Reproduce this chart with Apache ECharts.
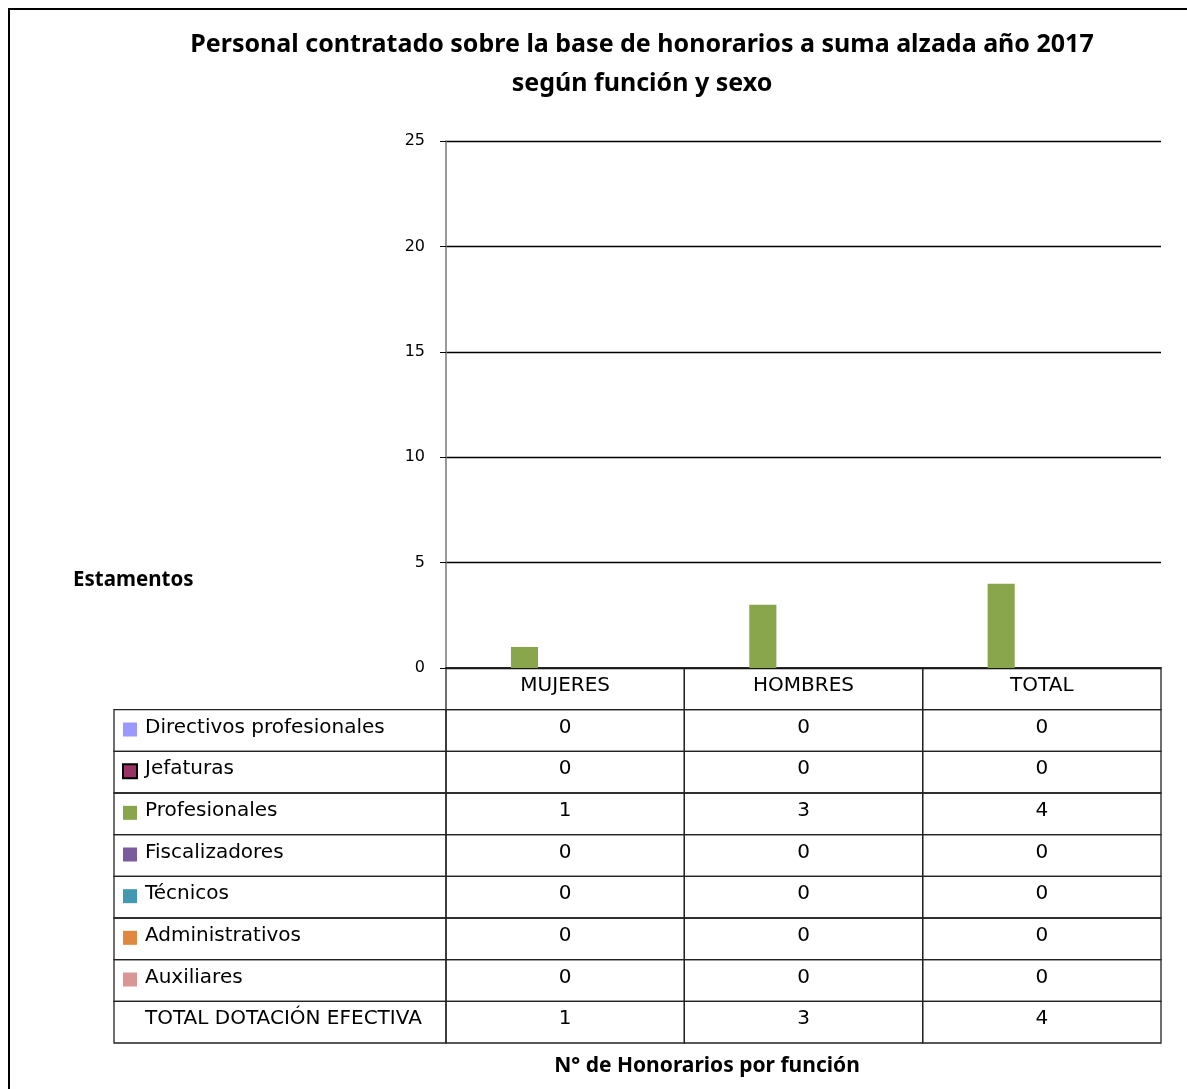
<!DOCTYPE html>
<html>
<head>
<meta charset="utf-8">
<script src="https://cdn.jsdelivr.net/npm/echarts@6/dist/echarts.min.js"></script>
<style>
  html, body { margin: 0; padding: 0; background: #fff; }
  #chart { width: 1187px; height: 1089px; }
</style>
</head>
<body>
<div id="chart"></div>
<script>
// data
var categories = ['MUJERES', 'HOMBRES', 'TOTAL'];
var estamentos = ['Directivos profesionales', 'Jefaturas', 'Profesionales', 'Fiscalizadores',
  'Técnicos', 'Administrativos', 'Auxiliares', 'TOTAL DOTACIÓN EFECTIVA'];
var directivos = [0, 0, 0];
var jefaturas = [0, 0, 0];
var profesionales = [1, 3, 4];
var fiscalizadores = [0, 0, 0];
var tecnicos = [0, 0, 0];
var administrativos = [0, 0, 0];
var auxiliares = [0, 0, 0];
var totalDotacion = [1, 3, 4];
var yTicks = [0, 5, 10, 15, 20, 25];

var seriesValues = [directivos, jefaturas, profesionales, fiscalizadores,
  tecnicos, administrativos, auxiliares, totalDotacion];
var colors = ['#9999ff', '#993366', '#8aa64c', '#7a5c9c', '#4299b1', '#e0883f', '#d99694', 'transparent'];

var FONT = '"DejaVu Sans", sans-serif';
var BOLD = '"Noto Sans", sans-serif';
var LINE = '#222';
var LABEL_W = 332;

var barSeries = seriesValues.map(function (vals, i) {
  return {
    name: estamentos[i],
    type: 'bar',
    xAxisIndex: 0,
    yAxisIndex: 0,
    barGap: '0%',
    barCategoryGap: '9%',
    itemStyle: { color: colors[i] },
    data: vals
  };
});

// table cells: header row + one row per estamento
var cellData = [];
categories.forEach(function (c, j) { cellData.push([j, 0, c]); });
seriesValues.forEach(function (vals, i) {
  vals.forEach(function (v, j) { cellData.push([j, i + 1, String(v)]); });
});
var labelData = estamentos.map(function (n, i) { return [0, i + 1, n, i]; });
var rowCats = [''].concat(estamentos);

var chart = echarts.init(document.getElementById('chart'));
chart.setOption({
  animation: false,
  backgroundColor: '#fff',
  grid: [
    { left: 446, right: 26, top: 141, height: 527 },
    { left: 446, right: 26, top: 668, height: 375 }
  ],
  xAxis: [
    { type: 'category', gridIndex: 0, data: categories,
      axisLine: { lineStyle: { color: '#000', width: 1.5 } },
      axisTick: { show: false }, axisLabel: { show: false } },
    { type: 'category', gridIndex: 1, data: categories, show: false }
  ],
  yAxis: [
    { type: 'value', gridIndex: 0, min: 0, max: 25, interval: 5,
      axisLine: { show: true, lineStyle: { color: '#777', width: 1.5 } },
      axisTick: { show: true, length: 6, lineStyle: { color: '#000' } },
      axisLabel: { margin: 21, color: '#000', fontFamily: FONT, fontSize: 16,
        formatter: function (v) { return yTicks.indexOf(v) >= 0 ? String(v) : ''; } },
      splitLine: { lineStyle: { color: '#000', width: 1.3 } } },
    { type: 'category', gridIndex: 1, data: rowCats, inverse: true, show: false }
  ],
  series: barSeries.concat([
    {
      type: 'custom',
      xAxisIndex: 1, yAxisIndex: 1,
      data: cellData,
      renderItem: function (params, api) {
        var p = api.coord([api.value(0), api.value(1)]);
        var s = api.size([1, 1]);
        return {
          type: 'group',
          children: [
            { type: 'rect', shape: { x: p[0] - s[0] / 2, y: p[1] - s[1] / 2, width: s[0], height: s[1] },
              style: { fill: 'none', stroke: LINE, lineWidth: 1.3 } },
            { type: 'text', x: p[0], y: p[1] - 3,
              style: { text: cellData[params.dataIndex][2], fill: '#000', font: '20px ' + FONT,
                textAlign: 'center', textVerticalAlign: 'middle' } }
          ]
        };
      }
    },
    {
      type: 'custom',
      xAxisIndex: 1, yAxisIndex: 1,
      data: labelData,
      renderItem: function (params, api) {
        var p = api.coord([api.value(0), api.value(1)]);
        var s = api.size([1, 1]);
        var idx = labelData[params.dataIndex][3];
        var x0 = p[0] - s[0] / 2 - LABEL_W;
        var y0 = p[1] - s[1] / 2;
        var kids = [
          { type: 'rect', shape: { x: x0, y: y0, width: LABEL_W, height: s[1] },
            style: { fill: 'none', stroke: LINE, lineWidth: 1.3 } },
          { type: 'text', x: x0 + 31, y: p[1] - 3,
            style: { text: labelData[params.dataIndex][2], fill: '#000', font: '20px ' + FONT,
              textAlign: 'left', textVerticalAlign: 'middle' } }
        ];
        if (colors[idx] !== 'transparent') {
          kids.push({ type: 'rect', shape: { x: x0 + 9, y: p[1] - 8, width: 14, height: 14 },
            style: { fill: colors[idx], stroke: idx === 1 ? '#000' : 'none', lineWidth: 2 } });
        }
        return { type: 'group', children: kids };
      }
    }
  ]),
  graphic: [
    { type: 'polyline', shape: { points: [[9, 1089], [9, 9], [1187, 9]] },
      style: { stroke: '#000', lineWidth: 2, fill: 'none' } },
    { type: 'text', x: 642, y: 45,
      style: { text: 'Personal contratado sobre la base de honorarios a suma alzada año 2017',
        font: 'bold 25px ' + BOLD, fill: '#000', textAlign: 'center', textVerticalAlign: 'middle' } },
    { type: 'text', x: 642, y: 84,
      style: { text: 'según función y sexo',
        font: 'bold 25px ' + BOLD, fill: '#000', textAlign: 'center', textVerticalAlign: 'middle' } },
    { type: 'text', x: 73, y: 580,
      style: { text: 'Estamentos', font: 'bold 20.5px ' + BOLD, fill: '#000',
        textAlign: 'left', textVerticalAlign: 'middle' } },
    { type: 'text', x: 707, y: 1066,
      style: { text: 'N° de Honorarios por función', font: 'bold 21px ' + BOLD, fill: '#000',
        textAlign: 'center', textVerticalAlign: 'middle' } }
  ]
});
</script>
</body>
</html>
